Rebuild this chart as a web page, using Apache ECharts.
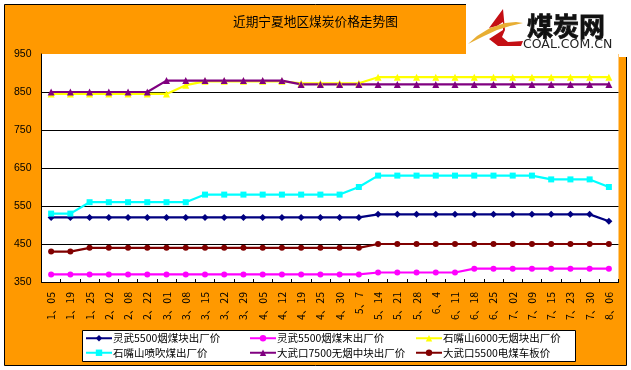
<!DOCTYPE html>
<html><head><meta charset="utf-8">
<style>html,body{margin:0;padding:0;background:#fff}#c{width:631px;height:370px}</style>
<script src="https://cdn.jsdelivr.net/npm/echarts@6/dist/echarts.min.js"></script>
</head><body><div id="c"></div>
<script>
const titleText='近期宁夏地区煤炭价格走势图';
const categories=['1、05','1、19','1、25','2、02','2、08','2、22','3、01','3、08','3、15','3、22','3、29','4、05','4、12','4、19','4、25','4、30','5、7','5、14','5、21','5、28','6、4','6、11','6、18','6、25','7、02','7、09','7、15','7、23','7、30','8、06'];
const lingwuLump=[520,520,520,520,520,520,520,520,520,520,520,520,520,520,520,520,520,528,528,528,528,528,528,528,528,528,528,528,528,510];
const lingwuFines=[370,370,370,370,370,370,370,370,370,370,370,370,370,370,370,370,370,375,375,375,375,375,385,385,385,385,385,385,385,385];
const szs6000=[845,845,845,845,845,845,845,868,878,878,878,878,878,873,873,873,873,889,889,889,889,889,889,889,889,889,889,889,889,889];
const szsPci=[530,530,560,560,560,560,560,560,580,580,580,580,580,580,580,580,600,630,630,630,630,630,630,630,630,630,620,620,620,600];
const dwk7500=[850,850,850,850,850,850,880,880,880,880,880,880,880,870,870,870,870,870,870,870,870,870,870,870,870,870,870,870,870,870];
const dwk5500=[430,430,440,440,440,440,440,440,440,440,440,440,440,440,440,440,440,450,450,450,450,450,450,450,450,450,450,450,450,450];
const F='"Noto Sans CJK SC"';
const mk=(name,data,color,symbol,size)=>({name,type:'line',data,symbol,symbolSize:size,showSymbol:true,animation:false,
  lineStyle:{color,width:2.2},itemStyle:{color},emphasis:{disabled:true}});
const N=['灵武5500烟煤块出厂价','灵武5500烟煤末出厂价','石嘴山6000无烟块出厂价','石嘴山喷吹煤出厂价','大武口7500无烟中块出厂价','大武口5500电煤车板价'];
const leg=(left,data)=>({left,top:333,orient:'vertical',itemWidth:26,itemHeight:8,itemGap:4,padding:0,data,
  textStyle:{fontFamily:F,fontSize:10.5,color:'#000',padding:[0,0,0,-4]},selectedMode:false});
const chart=echarts.init(document.getElementById('c'),null,{renderer:'canvas'});
chart.setOption({
  animation:false,backgroundColor:'#fff',
  title:{text:titleText,left:233,top:15,padding:0,textStyle:{fontFamily:F,fontSize:12.7,fontWeight:'normal',color:'#000'}},
  grid:{left:41.5,top:54,width:577,height:228,show:true,backgroundColor:'#fff',borderWidth:0},
  legend:[leg(85,[N[0],N[3]]),leg(249,[N[1],N[4]]),leg(415,[N[2],N[5]])],
  xAxis:{type:'category',data:categories,boundaryGap:true,
    axisLine:{lineStyle:{color:'#000',width:1}},
    axisTick:{show:true,inside:true,length:3,alignWithLabel:false,lineStyle:{color:'#000'}},
    axisLabel:{interval:0,rotate:90,margin:10,fontFamily:F,fontSize:10.5,color:'#000'}},
  yAxis:{type:'value',min:350,max:950,interval:100,
    axisLine:{show:true,lineStyle:{color:'#000',width:1}},axisTick:{show:false},
    splitLine:{show:true,showMaxLine:false,showMinLine:false,lineStyle:{color:'#000',width:1}},
    axisLabel:{margin:10,fontFamily:'"Liberation Sans"',fontSize:10.5,color:'#000',padding:[4,0,0,0]}},
  series:[
    mk(N[0],lingwuLump,'#000080','diamond',7),
    mk(N[1],lingwuFines,'#FF00FF','circle',6),
    mk(N[2],szs6000,'#FFFF00','triangle',7),
    mk(N[3],szsPci,'#00FFFF','rect',6),
    mk(N[4],dwk7500,'#800080','triangle',7),
    mk(N[5],dwk5500,'#800000','circle',6)
  ],
  graphic:[
    {type:'rect',z:-10,silent:true,shape:{x:4.5,y:4.5,width:622,height:361},style:{fill:'#FF9900',stroke:'#000',lineWidth:1}},
    {type:'rect',z:3,silent:true,shape:{x:82.5,y:330.5,width:493,height:31},style:{fill:'#fff',stroke:'#000',lineWidth:1}},
    {type:'rect',z:20,silent:true,shape:{x:466,y:0,width:165,height:54},style:{fill:'#fff'}},
    {type:'rect',z:20,silent:true,shape:{x:619,y:54,width:12,height:3},style:{fill:'#fff'}},
    {type:'polygon',z:21,silent:true,shape:{points:[[503,9],[489,28],[497,26],[503,22],[503,30],[489,39],[498,46],[521,46],[523,41],[508,42],[502,37],[505,30]]},style:{fill:'#C40F14'}},
    {type:'polygon',z:22,silent:true,shape:{points:[[468,44],[477,36],[490,28],[505,23],[516,22],[523,23],[510,26],[497,30],[484,36]]},style:{fill:'#E8AE33'}},
    {type:'text',z:22,silent:true,style:{x:527,y:13,text:'煤炭网',fill:'#111',stroke:'#111',lineWidth:0.8,font:'bold 26px "Noto Sans CJK SC"'}},
    {type:'text',z:22,silent:true,style:{x:523,y:38.5,text:'COAL.COM.CN',fill:'#222',font:'12.5px "DejaVu Sans"'}}
  ]
});
</script></body></html>
